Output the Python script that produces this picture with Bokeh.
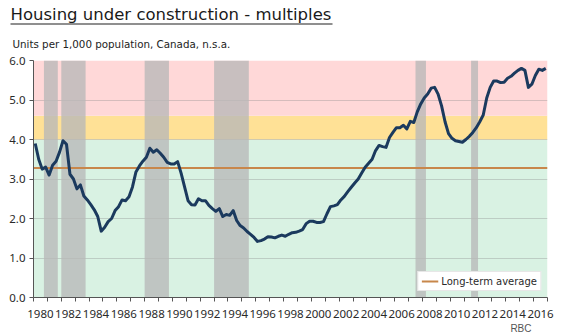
from bokeh.plotting import figure
from bokeh.models import (Range1d, FixedTicker, BoxAnnotation, Title, Legend,
                          LegendItem, NumeralTickFormatter, ColorBar,
                          LinearColorMapper)
from bokeh.embed import file_html
from bokeh.resources import INLINE

# ---------------- data ----------------
years = list(range(1980, 2017))
multiples = [
    3.90, 3.50, 3.25, 3.30,   # 1980
    3.10, 3.35, 3.45, 3.68,   # 1981
    3.97, 3.88, 3.12, 3.00,   # 1982
    2.75, 2.85, 2.57, 2.47,   # 1983
    2.35, 2.22, 2.05, 1.68,   # 1984
    1.78, 1.92, 2.00, 2.20,   # 1985
    2.30, 2.47, 2.45, 2.55,   # 1986
    2.80, 3.18, 3.33, 3.45,   # 1987
    3.55, 3.78, 3.68, 3.74,   # 1988
    3.65, 3.55, 3.42, 3.38,   # 1989
    3.38, 3.44, 3.15, 2.80,   # 1990
    2.45, 2.35, 2.34, 2.50,   # 1991
    2.45, 2.45, 2.33, 2.25,   # 1992
    2.18, 2.25, 2.05, 2.10,   # 1993
    2.08, 2.20, 1.95, 1.82,   # 1994
    1.76, 1.67, 1.60, 1.52,   # 1995
    1.42, 1.44, 1.48, 1.54,   # 1996
    1.53, 1.51, 1.55, 1.58,   # 1997
    1.55, 1.60, 1.64, 1.65,   # 1998
    1.68, 1.72, 1.87, 1.93,   # 1999
    1.93, 1.90, 1.90, 1.92,   # 2000
    2.12, 2.30, 2.32, 2.35,   # 2001
    2.47, 2.56, 2.68, 2.79,   # 2002
    2.90, 3.00, 3.15, 3.30,   # 2003
    3.40, 3.50, 3.72, 3.85,   # 2004
    3.82, 3.80, 4.05, 4.18,   # 2005
    4.30, 4.30, 4.36, 4.27,   # 2006
    4.46, 4.43, 4.70, 4.90,   # 2007
    5.05, 5.15, 5.30, 5.32,   # 2008
    5.15, 4.85, 4.45, 4.15,   # 2009
    4.03, 3.97, 3.95, 3.93,   # 2010
    4.00, 4.08, 4.18, 4.30,   # 2011
    4.45, 4.62, 5.05, 5.32,   # 2012
    5.48, 5.48, 5.44, 5.45,   # 2013
    5.55, 5.60, 5.68, 5.75,   # 2014
    5.80, 5.75, 5.32, 5.40,   # 2015
    5.62, 5.78, 5.75, 5.80,   # 2016
]
long_term_average = 3.28
zone_bounds = [0.0, 4.0, 4.6, 6.0]
zone_colors = ["#D9F2E3", "#FFE196", "#FFD8D8"]
shade_start = [1980.75, 1982.0, 1988.0, 1993.0, 2007.5, 2011.5]
shade_end = [1981.75, 1983.75, 1989.75, 1995.5, 2008.25, 2012.0]
label_years = list(range(1980, 2017, 2))
y_ticks = [0, 1, 2, 3, 4, 5, 6]

title_text = "Housing under construction - multiples"
subtitle_text = "Units per 1,000 population, Canada, n.s.a."
legend_text = "Long-term average"
source_text = "RBC"

# quarterly dates (mid-quarter, decimal years)
x = [y + (q + 0.5) / 4 for y in years for q in range(4)]
x_lo, x_hi = years[0], years[-1] + 1

FONT = "DejaVu Sans"
TICK_FONT = "Noto Sans"

p = figure(width=570, height=333, x_range=Range1d(x_lo, x_hi),
           y_range=Range1d(y_ticks[0], y_ticks[-1]),
           output_backend="svg", toolbar_location=None, title=None,
           min_border=0)
p.min_border_left = 33
p.min_border_right = 23
p.min_border_top = 60
p.min_border_bottom = 35
p.outline_line_color = None
p.background_fill_color = "white"
p.border_fill_color = "white"

# coloured zones (under grid)
for lo, hi, col in zip(zone_bounds[:-1], zone_bounds[1:], zone_colors):
    p.add_layout(BoxAnnotation(bottom=lo, top=hi, fill_color=col, fill_alpha=1.0,
                               line_color=None, level="image"))

# grey shaded periods
p.quad(left=shade_start, right=shade_end, bottom=y_ticks[0], top=y_ticks[-1],
       fill_color="#B8B8B8", fill_alpha=0.77, line_color=None)

avg_r = p.line([x_lo, x_hi], [long_term_average, long_term_average],
               line_color="#C8874B", line_width=2)
p.line(x, multiples, line_color="#1B3A5E", line_width=3, line_join="round")

# grid
p.xgrid.visible = False
p.ygrid.grid_line_color = "#8a8a8a"
p.ygrid.grid_line_alpha = 0.35
p.ygrid.grid_line_width = 1

# axes
xa = p.xaxis[0]
xa.ticker = FixedTicker(ticks=[yr + 0.5 for yr in label_years],
                        minor_ticks=list(range(x_lo, x_hi + 1)))
xa.major_label_overrides = {yr + 0.5: str(yr) for yr in label_years}
xa.major_tick_out = 0
xa.major_tick_in = 0
xa.minor_tick_out = 4
xa.minor_tick_in = 0
xa.major_label_standoff = 8
ya = p.yaxis[0]
ya.ticker = FixedTicker(ticks=y_ticks)
ya.formatter = NumeralTickFormatter(format="0.0")
ya.major_tick_out = 4
ya.major_tick_in = 0
ya.minor_tick_out = 0
ya.minor_tick_in = 0
ya.major_label_standoff = 4
for ax in (xa, ya):
    ax.axis_line_color = "#555555"
    ax.major_tick_line_color = "#555555"
    ax.minor_tick_line_color = "#555555"
    ax.major_label_text_font = TICK_FONT
    ax.major_label_text_font_size = "11.5px"
    ax.major_label_text_color = "#2a2a2a"

# legend
legend = Legend(items=[LegendItem(label=legend_text, renderers=[avg_r])],
                location="bottom_right", margin=6, padding=3, spacing=0,
                glyph_width=17, glyph_height=12, label_height=12,
                label_standoff=3, label_text_font=FONT,
                label_text_font_size="10px", label_text_color="#2a2a2a",
                border_line_color="#cfcfcf", background_fill_color="white",
                background_fill_alpha=1.0)
p.add_layout(legend)

# titles (subtitle nearest the frame, then underline bar, then main title)
sub = Title(text=subtitle_text, align="left", offset=-21, standoff=22,
            text_font=FONT, text_font_size="10.3px", text_font_style="normal",
            text_color="#222222")
p.add_layout(sub, "above")

underline = ColorBar(color_mapper=LinearColorMapper(palette=["#222222"], low=0, high=1),
                     orientation="horizontal", width=322, height=1,
                     location=(-23, 0), padding=0, margin=-4,
                     ticker=FixedTicker(ticks=[]), major_tick_line_color=None,
                     minor_tick_line_color=None, bar_line_color=None,
                     background_fill_color=None, border_line_color=None,
                     major_label_text_font_size="0px", label_standoff=0)
p.add_layout(underline, "above")

main = Title(text=title_text, align="left", offset=-23, standoff=0,
             text_font=FONT, text_font_size="16.5px", text_font_style="normal",
             text_color="#1a1a1a")
p.add_layout(main, "above")

src = Title(text=source_text, align="right", offset=16, standoff=0,
            text_font="Liberation Sans", text_font_size="10px",
            text_font_style="normal", text_color="#555555")
p.add_layout(src, "below")

open("out.html", "w").write(file_html(p, INLINE))
